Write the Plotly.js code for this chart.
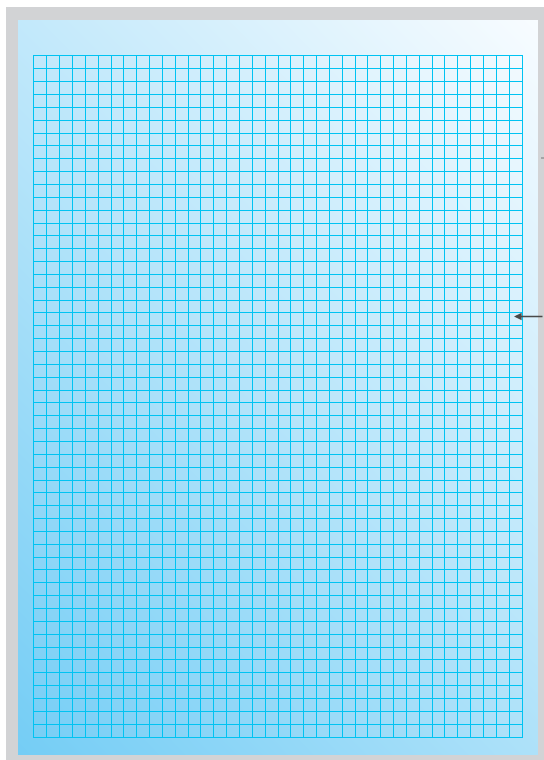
<!DOCTYPE html>
<html>
<head>
<meta charset="utf-8">
<script src="https://cdn.plot.ly/plotly-3.0.1.min.js"></script>
<style>html,body{margin:0;padding:0;background:#fff;}#chart{width:544px;height:760px;}</style>
</head>
<body>
<div id="chart"></div>
<script>
// Grid paper: number of cells
const gridColumns = 38;
const gridRows = 53;
// Background gradient values at panel corners (0 = bottom-left blue, 1 = top-right white)
const gradX = [0, 1];
const gradY = [0, 1];
const gradZ = [[0, 0.42], [0.58, 1]];
const gradColors = [[0, '#74cdf5'], [0.5, '#b8e5fa'], [1, '#f8fcff']];

const W = 544, H = 760;
const px = v => v / W;
const py = v => 1 - v / H;

const traces = [
  {
    type: 'heatmap', x: gradX, y: gradY, z: gradZ, zsmooth: 'best',
    colorscale: gradColors, showscale: false, hoverinfo: 'skip',
    xaxis: 'x', yaxis: 'y'
  },
  {
    type: 'scatter', mode: 'markers', x: [0, gridColumns], y: [0, gridRows],
    marker: {opacity: 0}, hoverinfo: 'skip', showlegend: false,
    xaxis: 'x2', yaxis: 'y2'
  }
];

const gridStyle = {
  showgrid: true, gridcolor: '#00c3f2', gridwidth: 1,
  zeroline: false, showticklabels: false, ticks: '',
  showline: true, linecolor: '#00c3f2', linewidth: 1, mirror: true,
  dtick: 1, tick0: 0, fixedrange: true
};

const layout = {
  width: W, height: H,
  margin: {l: 0, r: 0, t: 0, b: 0},
  paper_bgcolor: '#ffffff',
  plot_bgcolor: 'rgba(0,0,0,0)',
  showlegend: false,
  xaxis: {domain: [px(18), px(538)], range: [0, 1], visible: false, fixedrange: true, anchor: 'y'},
  yaxis: {domain: [py(755), py(20)], range: [0, 1], visible: false, fixedrange: true, anchor: 'x'},
  xaxis2: Object.assign({domain: [px(34), px(522)], range: [0, gridColumns], anchor: 'y2'}, gridStyle),
  yaxis2: Object.assign({domain: [py(737), py(56)], range: [0, gridRows], anchor: 'x2'}, gridStyle),
  shapes: [
    {type: 'rect', xref: 'paper', yref: 'paper', x0: px(6), x1: 1, y0: 0, y1: py(7),
     fillcolor: '#d2d3d5', line: {width: 0}, layer: 'below'},
    {type: 'line', xref: 'paper', yref: 'paper', x0: px(541), x1: px(544), y0: py(158), y1: py(158),
     line: {color: '#777', width: 1}}
  ],
  annotations: [
    {xref: 'paper', yref: 'paper', x: px(514), y: py(316.5), text: '', showarrow: true,
     ax: 31, ay: 0, arrowhead: 2, arrowsize: 0.9, arrowwidth: 1.7, arrowcolor: '#4a4a4a', standoff: 0}
  ]
};

Plotly.newPlot('chart', traces, layout, {displayModeBar: false, staticPlot: true});
</script>
</body>
</html>
